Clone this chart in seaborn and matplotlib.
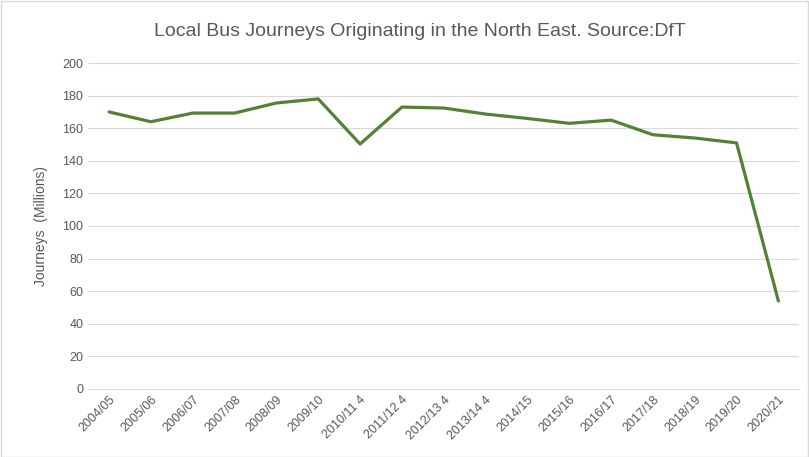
import pandas as pd
import matplotlib.pyplot as plt
import seaborn as sns

# -----------------------------
# DATA
# -----------------------------
years = ["2004/05", "2005/06", "2006/07", "2007/08", "2008/09", "2009/10",
         "2010/11 4", "2011/12 4", "2012/13 4", "2013/14 4", "2014/15",
         "2015/16", "2016/17", "2017/18", "2018/19", "2019/20", "2020/21"]
journeys = [170, 164, 169.3, 169.3, 175.5, 178, 150.3, 173, 172.4, 168.7,
            166, 163, 165, 156, 154, 151, 54]

df = pd.DataFrame({"Year": years, "Journeys": journeys})

# -----------------------------
# PLOT
# -----------------------------
sns.set_style("white")
plt.rcParams['font.family'] = ['Liberation Sans', 'DejaVu Sans']

fig = plt.figure(figsize=(8.09, 4.57), dpi=100)
ax = fig.add_axes([0.109, 0.149, 0.879, 0.713])

sns.lineplot(data=df, x="Year", y="Journeys", color="#548235", linewidth=2.3,
             sort=False, ax=ax)

ax.set_xlim(-0.5, len(years) - 0.5)
ax.set_ylim(0, 200)
ax.set_yticks(range(0, 201, 20))
ax.grid(axis='y', color='#d9d9d9', linewidth=0.8)
ax.set_axisbelow(True)
for s in ['top', 'right', 'left']:
    ax.spines[s].set_visible(False)
ax.spines['bottom'].set_color('#d9d9d9')

ax.tick_params(axis='both', colors='#595959', labelsize=9, length=0)
plt.setp(ax.get_xticklabels(), rotation=45, ha='right', rotation_mode='anchor')
ax.set_xlabel("")
ax.set_ylabel("Journeys  (Millions)", color='#595959', fontsize=10, labelpad=10)

# title centred a little left of the axes centre, like the original
fig.text(0.519, 0.93, "Local Bus Journeys Originating in the North East. Source:DfT",
         color='#595959', fontsize=14, ha='center', va='center')

# light border round the chart
fig.patches.append(plt.Rectangle((0.001, 0.001), 0.998, 0.997, transform=fig.transFigure,
                                 fill=False, edgecolor='#d9d9d9', linewidth=1))

plt.savefig("out.png", dpi=100)
